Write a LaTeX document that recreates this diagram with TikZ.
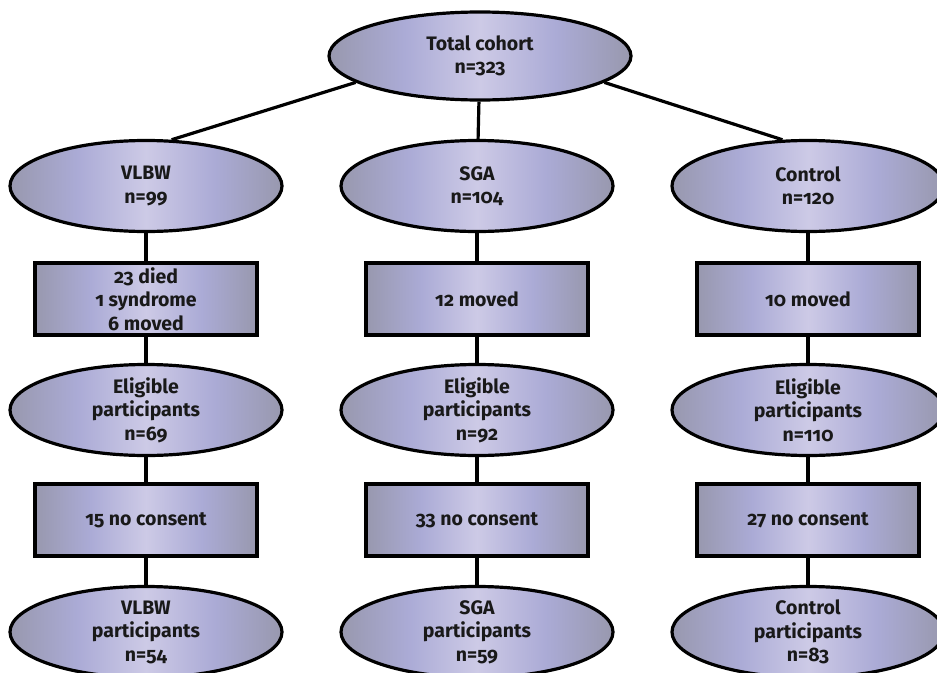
\documentclass[tikz,border=0pt]{standalone}
\usepackage{fontspec}
\setmainfont{Fira Sans}[Numbers=OldStyle]
\usepackage{tikz}
\usetikzlibrary{shapes.geometric}

\definecolor{edgegray}{HTML}{9898AE}
\definecolor{lavmid}{HTML}{ABABD6}
\definecolor{lavlight}{HTML}{CDCAE6}
\pgfdeclarehorizontalshading{lilac}{100bp}{color(0bp)=(edgegray); color(25bp)=(edgegray); color(37.5bp)=(lavmid); color(50bp)=(lavlight); color(62.5bp)=(lavmid); color(75bp)=(edgegray); color(100bp)=(edgegray)}

\begin{document}
\begin{tikzpicture}[x=1pt, y=-1pt,
    every node/.style={font=\fontsize{19.5}{23.5}\selectfont\bfseries, align=center, text=black!90},
    oval/.style={ellipse, draw, line width=3.2pt, shading=lilac, minimum width=272pt, minimum height=91pt, inner xsep=0pt, inner ysep=-5pt},
    lossbox/.style={rectangle, draw, line width=3.2pt, shading=lilac, minimum width=222pt, minimum height=72pt, inner sep=0pt},
    link/.style={line width=3.2pt}]
    \useasboundingbox (0,0) rectangle (937,672);

    \node[oval, minimum width=302pt, minimum height=88pt] (total) at (480,56) {Total cohort\\n=323};

    \node[oval] (vlbw) at (146,186) {VLBW\\n=99};
    \node[oval] (sga) at (477,186) {SGA\\n=104};
    \node[oval] (ctrl) at (808,186) {Control\\n=120};

    \node[lossbox] (vlbwlost) at (146,299) {23 died\\1 syndrome\\6 moved};
    \node[lossbox] (sgalost) at (477,299) {12 moved};
    \node[lossbox] (ctrllost) at (808,299) {10 moved};

    \node[oval] (vlbwelig) at (146,410) {Eligible\\participants\\n=69};
    \node[oval] (sgaelig) at (477,410) {Eligible\\participants\\n=92};
    \node[oval] (ctrlelig) at (808,410) {Eligible\\participants\\n=110};

    \node[lossbox] (vlbwnoc) at (146,520) {15 no consent};
    \node[lossbox] (sganoc) at (477,520) {33 no consent};
    \node[lossbox] (ctrlnoc) at (808,520) {27 no consent};

    \node[oval] (vlbwpart) at (146,632) {VLBW\\participants\\n=54};
    \node[oval] (sgapart) at (477,632) {SGA\\participants\\n=59};
    \node[oval] (ctrlpart) at (808,632) {Control\\participants\\n=83};

    % branches from the cohort
    \draw[link] (total.192) -- (vlbw.61);
    \draw[link] (total) -- (sga);
    \draw[link] (total.348) -- (ctrl.119);

    % columns
    \draw[link] (vlbw) -- (vlbwlost) -- (vlbwelig) -- (vlbwnoc) -- (vlbwpart);
    \draw[link] (sga) -- (sgalost) -- (sgaelig) -- (sganoc) -- (sgapart);
    \draw[link] (ctrl) -- (ctrllost) -- (ctrlelig) -- (ctrlnoc) -- (ctrlpart);
\end{tikzpicture}
\end{document}
